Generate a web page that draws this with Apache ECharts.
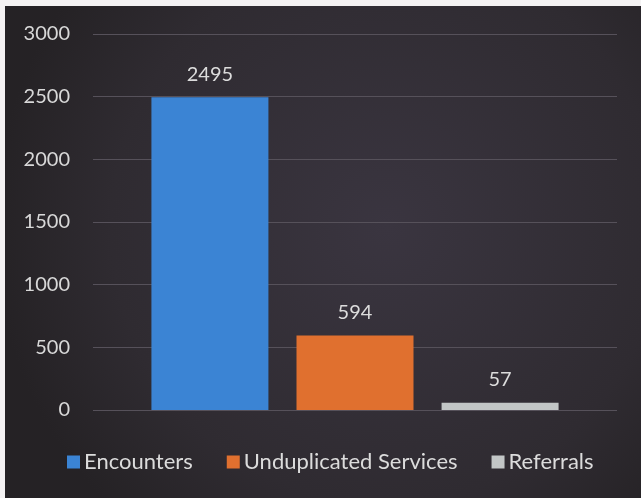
<!DOCTYPE html>
<html>
<head>
<meta charset="utf-8">
<script src="https://cdn.jsdelivr.net/npm/echarts@6/dist/echarts.min.js"></script>
<style>
  html, body { margin: 0; padding: 0; background: #f4f2f3; }
  #chart { position: absolute; left: 5px; top: 6px; width: 636px; height: 492px; }
</style>
</head>
<body>
<div id="chart"></div>
<script>
// data
const seriesNames = ['Encounters', 'Unduplicated Services', 'Referrals']
const seriesValues = [2495, 594, 57]
const yTicks = [0, 500, 1000, 1500, 2000, 2500, 3000]
const barColors = ['#3b84d4', '#e0702f', '#c2c6c6']

let myChart = echarts.init(document.getElementById('chart'))

let series = seriesNames.map((name, i) => {
  return {
    name: name,
    type: 'bar',
    data: [seriesValues[i]],
    barWidth: 117,
    barGap: '24%',
    itemStyle: { color: barColors[i] },
    label: {
      show: true,
      position: 'top',
      distance: 13,
      color: '#dcdcdc',
      fontSize: 20,
      fontFamily: 'Lato',
    },
  }
})

let option = {
  backgroundColor: {
    type: 'radial',
    x: 0.6,
    y: 0.45,
    r: 0.8,
    colorStops: [
      { offset: 0, color: '#3a3540' },
      { offset: 0.7, color: '#2f2b31' },
      { offset: 1, color: '#252225' },
    ],
  },
  animation: false,
  grid: { left: 88, right: 24, top: 28, bottom: 88 },
  legend: {
    data: seriesNames,
    bottom: 20,
    left: 57,
    itemWidth: 13,
    itemHeight: 13,
    itemGap: 34,
    icon: 'rect',
    textStyle: { color: '#dcdcdc', fontSize: 22, fontFamily: 'Lato', padding: [0, 0, 0, -1] },
  },
  xAxis: {
    type: 'category',
    data: [''],
    axisLine: { show: false },
    axisTick: { show: false },
    axisLabel: { show: false },
  },
  yAxis: {
    type: 'value',
    min: yTicks[0],
    max: yTicks[yTicks.length - 1],
    interval: 500,
    axisLine: { show: false },
    axisTick: { show: false },
    axisLabel: {
      color: '#d8d8d8',
      fontSize: 20,
      fontFamily: 'Lato',
      margin: 23,
      formatter: (v) => String(v),
    },
    splitLine: { lineStyle: { color: '#56515a', width: 1 } },
  },
  series: series,
}
myChart.setOption(option)
</script>
</body>
</html>
